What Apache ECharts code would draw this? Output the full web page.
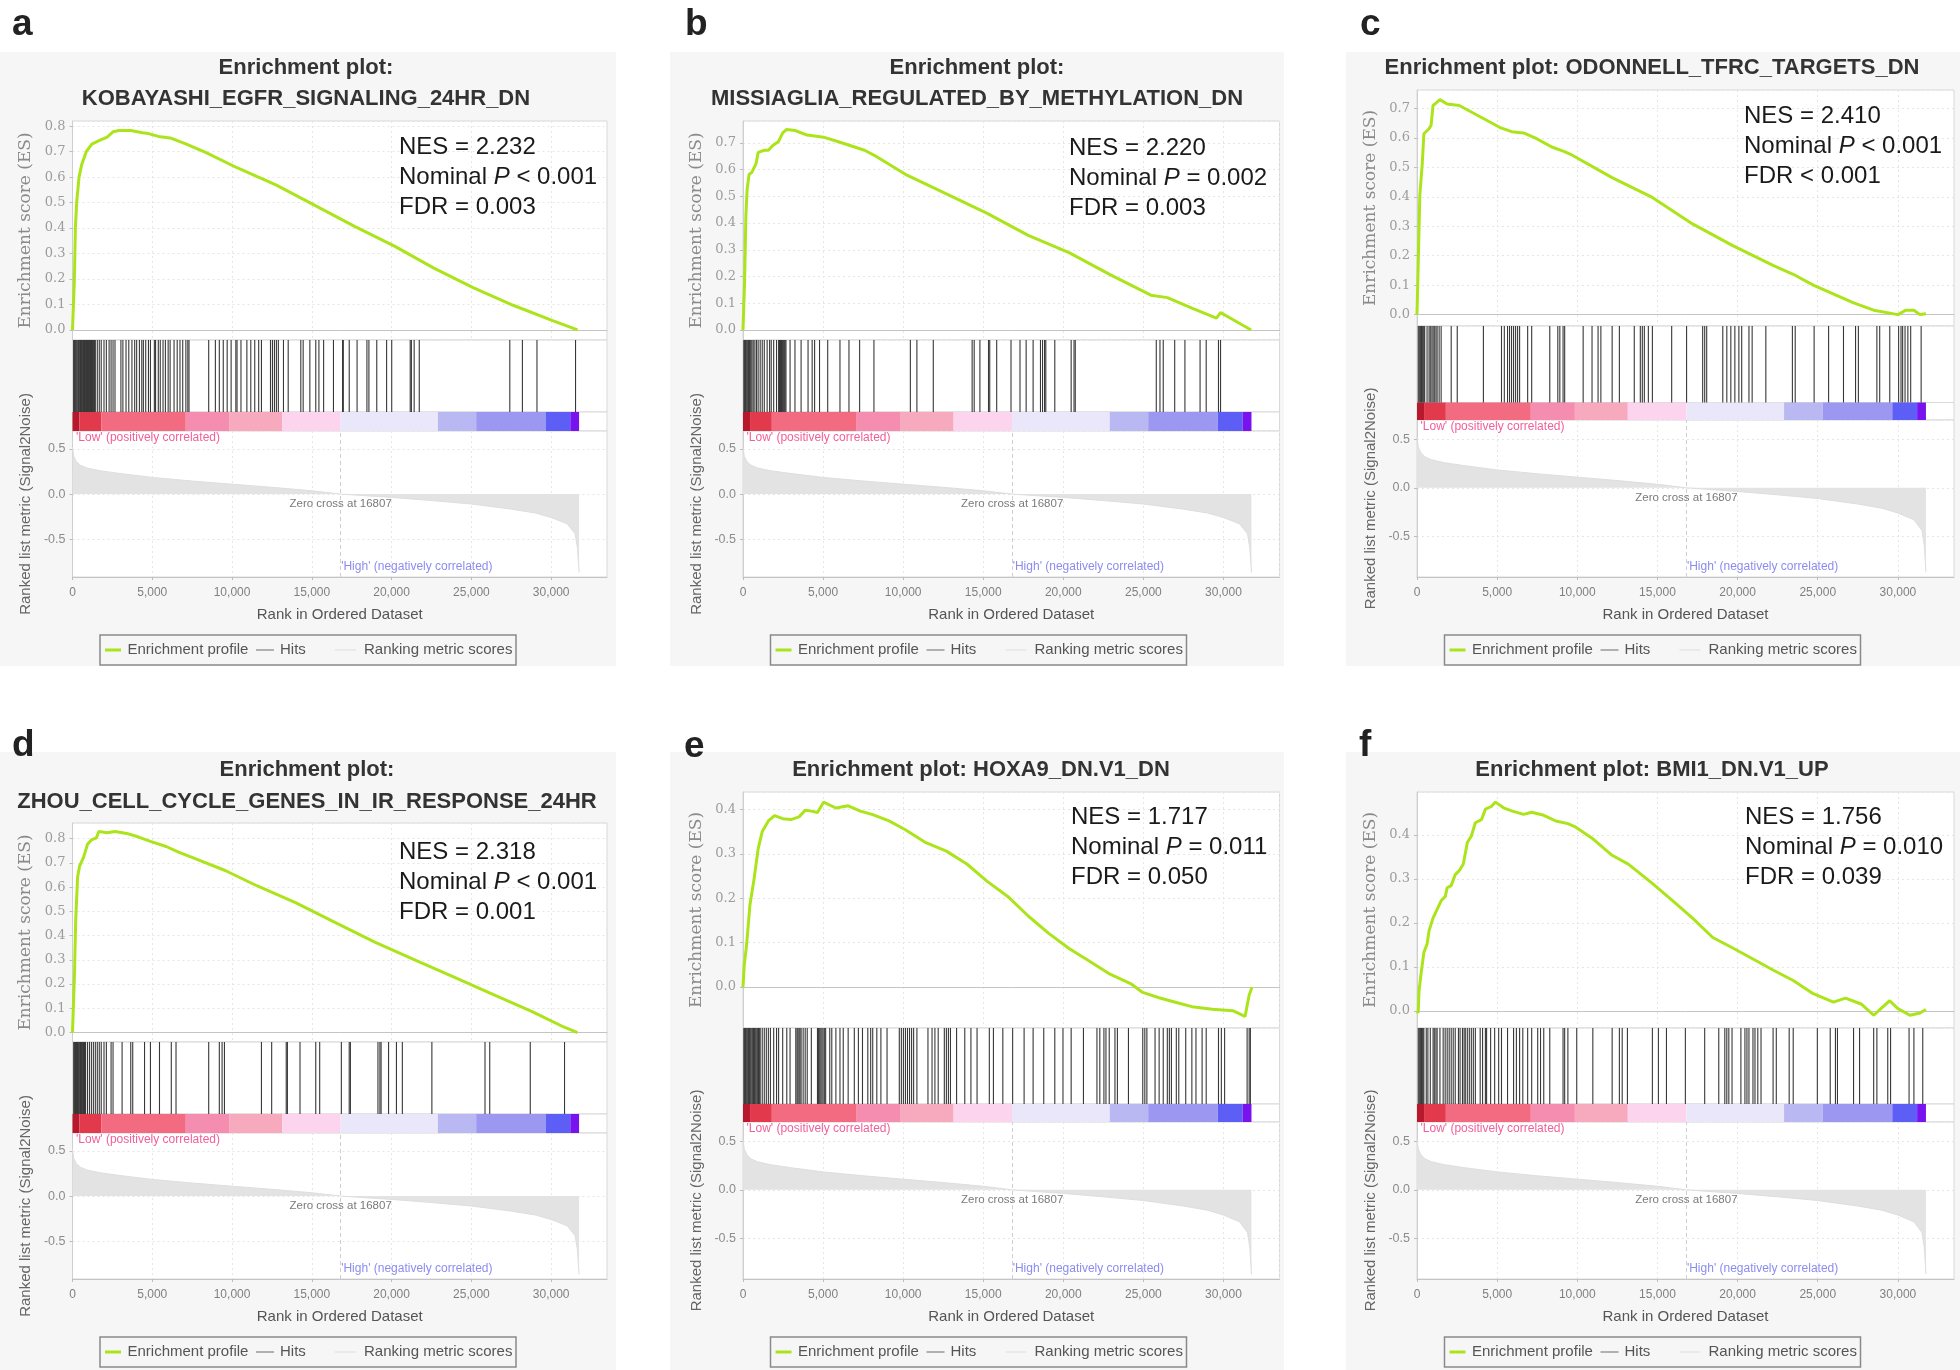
<!DOCTYPE html>
<html><head><meta charset="utf-8">
<script src="https://cdn.jsdelivr.net/npm/echarts@6/dist/echarts.min.js"></script>
<style>html,body{margin:0;padding:0;background:#fff}#c{width:1960px;height:1370px}</style>
</head><body><div id="c"></div>
<script>
// ---------------- DATA ----------------
const zeroCross = 16807;
const rankMax = 33500;
const metricRanks  = [0, 80, 250, 500, 900, 1700, 2900, 5000, 7500, 10000, 12500, 15000, 16807, 18500, 20000, 22500, 25000, 27500, 29000, 30000, 31000, 31500, 31650, 31750];
const metricValues = [0.52, 0.42, 0.36, 0.32, 0.29, 0.26, 0.23, 0.185, 0.145, 0.11, 0.075, 0.037, 0, -0.02, -0.037, -0.072, -0.11, -0.167, -0.21, -0.26, -0.33, -0.44, -0.6, -0.87];
const colorbarEdges = [0, 440, 1800, 7100, 9850, 13150, 16800, 22900, 25300, 29650, 31200, 31750];

const panelLabels = ['a', 'b', 'c', 'd', 'e', 'f'];
const geneSets = ['KOBAYASHI_EGFR_SIGNALING_24HR_DN', 'MISSIAGLIA_REGULATED_BY_METHYLATION_DN', 'ODONNELL_TFRC_TARGETS_DN',
                  'ZHOU_CELL_CYCLE_GENES_IN_IR_RESPONSE_24HR', 'HOXA9_DN.V1_DN', 'BMI1_DN.V1_UP'];
const nesValues = ['2.232', '2.220', '2.410', '2.318', '1.717', '1.756'];
const pValues   = ['< 0.001', '= 0.002', '< 0.001', '< 0.001', '= 0.011', '= 0.010'];
const fdrValues = ['= 0.003', '= 0.003', '< 0.001', '= 0.001', '= 0.050', '= 0.039'];

const esA = [[0,0],[74,0],[120,0.2],[180,0.4],[260,0.5],[410,0.6],[580,0.65],[860,0.7],[1210,0.73],[1730,0.745],[2170,0.757],[2540,0.778],[2910,0.783],[3650,0.783],[4390,0.774],[4760,0.771],[5380,0.76],[6120,0.754],[7100,0.731],[8340,0.697],[10310,0.637],[12780,0.569],[15250,0.487],[17710,0.406],[20180,0.329],[22650,0.243],[25110,0.166],[27580,0.098],[30050,0.038],[31650,0]];
const esB = [[0,0],[50,0],[100,0.183],[180,0.427],[255,0.525],[380,0.582],[560,0.59],[820,0.623],[945,0.664],[1330,0.672],[1585,0.672],[1840,0.689],[2220,0.705],[2480,0.737],[2730,0.75],[3245,0.746],[4010,0.729],[5030,0.721],[6055,0.702],[7590,0.672],[8350,0.648],[10140,0.582],[12700,0.509],[15250,0.436],[17810,0.354],[20360,0.289],[22920,0.207],[25470,0.13],[26500,0.121],[28030,0.082],[29560,0.044],[29820,0.065],[30580,0.039],[31730,0]];
const esC = [[0,0],[75,0],[80,0.18],[175,0.405],[325,0.51],[430,0.614],[750,0.631],[880,0.643],[1000,0.71],[1180,0.718],[1430,0.73],[1880,0.715],[2635,0.71],[4140,0.666],[5150,0.636],[5900,0.621],[6650,0.617],[7400,0.599],[8410,0.569],[9160,0.554],[9660,0.542],[12170,0.465],[14680,0.398],[17190,0.308],[19700,0.234],[22210,0.167],[23470,0.137],[24720,0.1],[27240,0.04],[28490,0.015],[30000,0],[30500,0.015],[31000,0.015],[31375,0],[31750,0.003]];
const esD = [[0,0],[74,0],[120,0.23],[200,0.463],[320,0.642],[444,0.687],[690,0.723],[940,0.777],[1180,0.795],[1500,0.804],[1650,0.83],[2170,0.825],[2660,0.83],[3400,0.822],[4145,0.807],[4880,0.789],[5870,0.768],[6610,0.746],[7845,0.714],[9570,0.669],[11550,0.606],[14010,0.535],[16480,0.454],[18950,0.373],[21410,0.301],[23880,0.23],[26350,0.158],[28810,0.086],[30790,0.023],[31650,0]];
const esE = [[0,0],[50,0],[75,0.049],[230,0.097],[430,0.184],[690,0.243],[945,0.311],[1200,0.35],[1585,0.374],[1970,0.386],[2480,0.379],[2990,0.377],[3500,0.383],[3885,0.398],[4270,0.396],[4650,0.393],[5030,0.416],[5800,0.403],[6570,0.408],[7330,0.396],[8100,0.388],[9120,0.374],[10140,0.354],[11420,0.325],[12700,0.306],[13980,0.277],[15250,0.238],[16530,0.204],[17810,0.16],[19090,0.121],[20360,0.087],[21640,0.058],[22920,0.029],[24200,0.008],[24960,-0.012],[25980,-0.024],[27000,-0.034],[28030,-0.044],[29310,-0.05],[30580,-0.053],[31350,-0.066],[31600,-0.019],[31780,0]];
const esF = [[0,0],[75,-0.005],[125,0.044],[250,0.084],[430,0.133],[630,0.152],[750,0.182],[1000,0.211],[1255,0.231],[1510,0.251],[1760,0.26],[1880,0.28],[2130,0.285],[2385,0.31],[2635,0.319],[2890,0.334],[3140,0.383],[3390,0.398],[3640,0.428],[4020,0.435],[4270,0.459],[4640,0.465],[4890,0.475],[5400,0.462],[5900,0.455],[6650,0.447],[7150,0.452],[7910,0.445],[8660,0.432],[9410,0.426],[9910,0.418],[10920,0.393],[12170,0.354],[13180,0.334],[14680,0.29],[15940,0.251],[17190,0.211],[18450,0.167],[19700,0.143],[20960,0.118],[22210,0.093],[23470,0.069],[24720,0.039],[25980,0.02],[26730,0.029],[27740,0.015],[28490,-0.01],[28990,0.007],[29490,0.023],[30000,0.005],[30750,-0.01],[31380,-0.005],[31750,0.003]];

const hitsA = [70,120,180,240,300,370,430,500,560,620,690,750,810,880,940,1000,1070,1130,1190,1250,1310,1380,1430,1554,1678,1800,1974,2122,2294,2418,2541,2664,3034,3158,3355,3528,3725,3898,4021,4194,4342,4441,4589,4761,4885,5131,5206,5378,5501,5674,5822,5995,6118,6365,6562,6735,6908,7105,7228,7302,8536,8955,9202,9449,9695,9942,10238,10312,10559,10929,11175,11422,11669,11842,12409,12532,12656,12779,12902,13223,13519,14309,14457,14876,15247,15444,15739,16356,16924,16974,17344,17836,18453,18577,19070,19687,20007,21167,21241,21414,21734,27408,28198,29111,31528];
const hitsB = [50,100,150,200,250,300,350,400,450,500,560,639,741,843,945,1073,1201,1329,1507,1661,1763,1916,2095,2223,2280,2340,2400,2460,2520,2580,2630,2683,2938,3245,3628,4062,4318,4471,4778,5289,6055,6617,7282,8176,10450,10859,11881,14308,14436,14793,15330,15407,15841,16735,17297,17680,18115,18575,18703,18830,18907,19469,20491,20670,20747,25806,26036,26240,26956,27594,28540,28923,29690,29818];
const hitsC = [75,130,180,230,280,330,380,430,480,628,753,828,929,1004,1079,1180,1255,1381,1506,2134,2510,4142,5271,5447,5648,5773,5899,6024,6150,6275,6401,6903,7154,8283,8785,8911,9111,9212,10366,10919,11295,11471,12174,12625,13554,13931,14056,14182,14433,14684,15888,16817,17821,17947,18072,19076,19327,19578,19829,20080,20256,20708,20908,21762,23418,23594,24774,25677,26606,27359,27535,28689,28865,29493,30045,30195,30296,30446,30622,30798,31450];
const hitsD = [74,130,190,250,310,370,430,500,560,620,690,750,814,937,1061,1184,1308,1431,1554,1678,1801,1974,2122,2418,2541,3108,3651,3775,4515,4885,5452,6192,6488,8536,9202,9375,9523,11842,12483,13396,13470,14259,15246,15493,16850,17343,17417,19144,19267,19341,19810,20303,20673,22524,25854,26150,28691,30838];
const hitsE = [50,100,150,200,250,300,350,400,450,500,560,610,660,710,760,810,870,920,970,1020,1073,1201,1329,1456,1584,1712,1916,2095,2223,2478,2734,2938,3296,3373,3430,3500,3560,3628,3756,3884,4011,4267,4650,4720,4790,4860,4930,5000,5080,5161,5417,5544,5800,6055,6260,6566,6950,7205,7461,7793,7972,8100,8355,8610,8994,9760,9888,10016,10143,10271,10399,10527,10654,10859,11549,11804,11983,12188,12571,12699,12826,12954,13337,13848,14232,14615,15381,15637,16224,16837,17553,18115,18779,19469,19980,20491,21258,22101,22280,22536,22663,22868,23225,23378,24068,24962,25090,25218,25729,25984,26240,26495,26623,26751,27057,27211,27645,28028,28284,28667,28923,29690,29869,30073,31478,31606,31682];
const hitsF = [75,130,180,230,280,330,380,427,577,678,828,1004,1079,1180,1255,1431,1632,1757,1883,2008,2134,2259,2385,2585,2686,2836,2937,3012,3138,3263,3389,3514,3640,3941,4091,4267,4342,4593,4844,5095,5271,5648,6024,6200,6401,6601,6903,7154,7530,7706,7907,8283,9111,9212,9413,9965,10969,12174,12625,12801,13127,14684,15060,15562,16742,17947,18825,19202,19327,19453,19653,20206,20457,20582,20708,20959,21084,21260,21461,22214,22414,23218,23469,24975,25778,26104,26230,27234,27610,28489,28689,29367,29543,30697,30999,31551];

const esSeries   = [esA, esB, esC, esD, esE, esF];
const hitsSeries = [hitsA, hitsB, hitsC, hitsD, hitsE, hitsF];

// ---------------- STYLE / LAYOUT ----------------
const colorbarColors = ['#b8182c', '#e23a4c', '#f36b80', '#f58db0', '#f7a9bd', '#fcd4ee', '#ebe7fa', '#b9b8f2', '#9c98f2', '#5d5ef5', '#7812ee'];
const ES_COLOR = '#ace41c';
const SANS = '"Liberation Sans", Arial, sans-serif';
const SERIF = '"DejaVu Serif", serif';
const rowA = {esTop:121, esBottom:340, hitsBottom:412, cbBottom:431, metBottom:577};
const rowC = {esTop:90, esBottom:326, hitsBottom:402.5, cbBottom:420, metBottom:577};
const rowD = {esTop:823, esBottom:1042, hitsBottom:1114, cbBottom:1133, metBottom:1279};
const rowE = {esTop:792, esBottom:1028, hitsBottom:1104, cbBottom:1122, metBottom:1279};
const layouts = [
  Object.assign({bgX:0,    bgY:52,  bgW:616, bgH:614, left:72.5, width:534.5, esMin:-0.0394, esMax:0.8205, titleX:306,  titleY:67.5, labelX:12,   labelY:25,  nesX:399,  nesY:147.5,  legendY:635, twoLine:true}, rowA),
  Object.assign({bgX:670,  bgY:52,  bgW:614, bgH:614, left:743,  width:536.5, esMin:-0.0375, esMax:0.7815, titleX:977,  titleY:67.5, labelX:685,  labelY:25,  nesX:1069, nesY:148.75, legendY:635, twoLine:true}, rowA),
  Object.assign({bgX:1346, bgY:52,  bgW:614, bgH:614, left:1417, width:537,   esMin:-0.0387, esMax:0.7626, titleX:1652, titleY:67.5, labelX:1360, labelY:25,  nesX:1744, nesY:116.25, legendY:635, twoLine:false}, rowC),
  Object.assign({bgX:0,    bgY:752, bgW:616, bgH:618, left:72.5, width:534.5, esMin:-0.039,  esMax:0.865,  titleX:307,  titleY:770,  labelX:12,   labelY:746, nesX:399,  nesY:852.5,  legendY:1337, twoLine:true}, rowD),
  Object.assign({bgX:670,  bgY:752, bgW:614, bgH:618, left:743,  width:536.5, esMin:-0.092,  esMax:0.439,  titleX:981,  titleY:770,  labelX:684,  labelY:747, nesX:1071, nesY:817.5,  legendY:1337, twoLine:false}, rowE),
  Object.assign({bgX:1346, bgY:752, bgW:614, bgH:618, left:1417, width:537,   esMin:-0.039,  esMax:0.498,  titleX:1652, titleY:770,  labelX:1359, labelY:746, nesX:1745, nesY:817.5,  legendY:1337, twoLine:false}, rowE)
];
const metMin = -0.92, metMax = 0.70;

// ---------------- BUILD ----------------
const grids = [], xAxes = [], yAxes = [], series = [], graphics = [];
const dotted = {color:'#e6e6e6', type:[2,3], width:1};

panelLabels.forEach((lab, i) => {
  const L = layouts[i];
  const g0 = grids.length;
  const gridBase = {left:L.left, width:L.width, show:true, backgroundColor:'#fff', borderColor:'#d9d9d9', borderWidth:1};
  grids.push(Object.assign({}, gridBase, {top:L.esTop, height:L.esBottom - L.esTop}));
  grids.push(Object.assign({}, gridBase, {top:L.esBottom, height:L.hitsBottom - L.esBottom}));
  grids.push(Object.assign({}, gridBase, {top:L.hitsBottom, height:L.cbBottom - L.hitsBottom}));
  grids.push(Object.assign({}, gridBase, {top:L.cbBottom, height:L.metBottom - L.cbBottom}));

  // ES axes
  xAxes.push({gridIndex:g0, type:'value', min:0, max:rankMax, minInterval:5000, maxInterval:5000,
    axisLabel:{show:false}, axisTick:{show:false},
    axisLine:{show:true, onZero:true, lineStyle:{color:'#c4c4c4', width:1}},
    splitLine:{show:true, lineStyle:dotted}});
  yAxes.push({gridIndex:g0, type:'value', min:L.esMin, max:L.esMax, minInterval:0.1, maxInterval:0.1,
    axisLine:{show:true, lineStyle:{color:'#cfcfcf'}},
    axisTick:{show:true, length:3, lineStyle:{color:'#bdbdbd'}},
    axisLabel:{formatter:v => v.toFixed(1), showMinLabel:false, showMaxLabel:false, color:'#9c9c9c', fontFamily:SERIF, fontSize:13, margin:7},
    splitLine:{show:true, lineStyle:dotted},
    name:'Enrichment score (ES)', nameLocation:'middle', nameRotate:90, nameGap:38,
    nameTextStyle:{fontFamily:SERIF, fontSize:17, color:'#8a8a8a'}});
  // hits axes
  xAxes.push({gridIndex:g0+1, type:'value', min:0, max:rankMax, show:false});
  yAxes.push({gridIndex:g0+1, type:'value', min:0, max:1, show:false});
  // colorbar axes
  xAxes.push({gridIndex:g0+2, type:'value', min:0, max:rankMax, show:false});
  yAxes.push({gridIndex:g0+2, type:'value', min:0, max:1, show:false});
  // metric axes
  xAxes.push({gridIndex:g0+3, type:'value', min:0, max:rankMax, minInterval:5000, maxInterval:5000,
    axisLine:{show:true, onZero:false, lineStyle:{color:'#c4c4c4'}},
    axisTick:{show:true, length:3, lineStyle:{color:'#bdbdbd'}},
    axisLabel:{formatter:v => v.toLocaleString('en-US'), showMaxLabel:false, color:'#808080', fontFamily:SANS, fontSize:12, margin:10},
    splitLine:{show:true, lineStyle:dotted},
    name:'Rank in Ordered Dataset', nameLocation:'middle', nameGap:30,
    nameTextStyle:{fontFamily:SANS, fontSize:15, color:'#555'}});
  yAxes.push({gridIndex:g0+3, type:'value', min:metMin, max:metMax, minInterval:0.5, maxInterval:0.5,
    axisLine:{show:true, lineStyle:{color:'#cfcfcf'}},
    axisTick:{show:true, length:3, lineStyle:{color:'#bdbdbd'}},
    axisLabel:{formatter:v => v.toFixed(1), showMinLabel:false, showMaxLabel:false, color:'#8c8c8c', fontFamily:SANS, fontSize:12.5, margin:7},
    splitLine:{show:true, lineStyle:dotted},
    name:'Ranked list metric (Signal2Noise)', nameLocation:'middle', nameRotate:90, nameGap:39,
    nameTextStyle:{fontFamily:SANS, fontSize:15, color:'#666'}});

  // series: metric area
  series.push({type:'line', name:'Ranking metric scores', xAxisIndex:g0+3, yAxisIndex:g0+3,
    data: metricRanks.map((r, k) => [r, metricValues[k]]),
    symbol:'none', lineStyle:{color:'#dedede', width:1}, areaStyle:{color:'#e3e3e3', opacity:1}, z:2,
    markLine:{silent:true, symbol:['none','none'], label:{show:false},
      lineStyle:{color:'#cfcfcf', type:[4,3], width:1}, data:[{xAxis:zeroCross}]},
    markPoint:{silent:true, symbol:'circle', symbolSize:1, itemStyle:{color:'rgba(0,0,0,0)'},
      data:[
        {coord:[0, 0.63], label:{show:true, formatter:"'Low' (positively correlated)", position:'right', distance:3, color:'#f0609a', fontFamily:SANS, fontSize:12}},
        {coord:[zeroCross, 0], label:{show:true, formatter:'Zero cross at ' + zeroCross, position:'bottom', distance:3, color:'#7a7a7a', fontFamily:SANS, fontSize:11.5}},
        {coord:[zeroCross, -0.81], label:{show:true, formatter:"'High' (negatively correlated)", position:'right', distance:0, color:'#8c8cf0', fontFamily:SANS, fontSize:12}}
      ]}});
  // colorbar
  series.push({type:'custom', name:'colorbar', xAxisIndex:g0+2, yAxisIndex:g0+2, silent:true,
    data: colorbarEdges.slice(0, -1).map((e, k) => [e, colorbarEdges[k+1], k]),
    encode:{x:[0,1]},
    renderItem:(params, api) => {
      const p0 = api.coord([api.value(0), 1]);
      const p1 = api.coord([api.value(1), 0]);
      return {type:'rect', shape:{x:p0[0], y:p0[1], width:p1[0]-p0[0], height:p1[1]-p0[1]},
        style:{fill:colorbarColors[api.value(2)]}};
    }});
  // hits
  series.push({type:'custom', name:'Hits', xAxisIndex:g0+1, yAxisIndex:g0+1, silent:true,
    data: hitsSeries[i].map(r => [r, 1]), encode:{x:0, y:1},
    renderItem:(params, api) => {
      const t = api.coord([api.value(0), 1]);
      const b = api.coord([api.value(0), 0]);
      return {type:'line', shape:{x1:t[0], y1:t[1], x2:b[0], y2:b[1]}, style:{stroke:'#383838', lineWidth:1.1}};
    }});
  // ES curve
  series.push({type:'line', name:'Enrichment profile', xAxisIndex:g0, yAxisIndex:g0,
    data: esSeries[i], symbol:'none', lineStyle:{color:ES_COLOR, width:3}, z:5});

  // ---- graphics ----
  graphics.push({type:'rect', z:-10, silent:true, shape:{x:L.bgX, y:L.bgY, width:L.bgW, height:L.bgH}, style:{fill:'#f6f6f6'}});
  graphics.push({type:'text', z:10, x:L.labelX, y:L.labelY, style:{text:lab, fontFamily:SANS, fontWeight:'bold', fontSize:37, fill:'#222', verticalAlign:'middle'}});
  const titleText = L.twoLine ? 'Enrichment plot:\n' + geneSets[i] : 'Enrichment plot: ' + geneSets[i];
  graphics.push({type:'text', z:10, x:L.titleX, y:L.titleY - 15.75, style:{text:titleText, fontFamily:SANS, fontWeight:'bold', fontSize:22, lineHeight:31.5, fill:'#333', align:'center', verticalAlign:'top'}});
  const statRich = {n:{fontFamily:SANS, fontSize:24, fill:'#1a1a1a'}, i:{fontFamily:SANS, fontSize:24, fontStyle:'italic', fill:'#1a1a1a'}};
  graphics.push({type:'text', z:10, x:L.nesX, y:L.nesY, style:{text:'{n|NES = ' + nesValues[i] + '}', rich:statRich, verticalAlign:'middle'}});
  graphics.push({type:'text', z:10, x:L.nesX, y:L.nesY + 30, style:{text:'{n|Nominal }{i|P}{n| ' + pValues[i] + '}', rich:statRich, verticalAlign:'middle'}});
  graphics.push({type:'text', z:10, x:L.nesX, y:L.nesY + 60, style:{text:'{n|FDR ' + fdrValues[i] + '}', rich:statRich, verticalAlign:'middle'}});
  // legend
  const lx = L.left + 27.5, ly = L.legendY, lc = ly + 15;
  graphics.push({type:'group', z:10, children:[
    {type:'rect', shape:{x:lx, y:ly, width:416, height:30}, style:{fill:'none', stroke:'#8a8a8a', lineWidth:1.5}},
    {type:'line', shape:{x1:lx+5, y1:lc, x2:lx+21, y2:lc}, style:{stroke:ES_COLOR, lineWidth:3}},
    {type:'text', x:lx+27.5, y:lc, style:{text:'Enrichment profile', fontFamily:SANS, fontSize:15, fill:'#555', verticalAlign:'middle'}},
    {type:'line', shape:{x1:lx+156, y1:lc, x2:lx+174, y2:lc}, style:{stroke:'#9a9a9a', lineWidth:1.5}},
    {type:'text', x:lx+180, y:lc, style:{text:'Hits', fontFamily:SANS, fontSize:15, fill:'#555', verticalAlign:'middle'}},
    {type:'line', shape:{x1:lx+235, y1:lc, x2:lx+256, y2:lc}, style:{stroke:'#e6e6e6', lineWidth:1.5}},
    {type:'text', x:lx+264, y:lc, style:{text:'Ranking metric scores', fontFamily:SANS, fontSize:15, fill:'#555', verticalAlign:'middle'}}
  ]});
});

const chart = echarts.init(document.getElementById('c'), null, {renderer:'canvas', width:1960, height:1370});
chart.setOption({
  animation:false,
  backgroundColor:'#ffffff',
  textStyle:{fontFamily:SANS},
  grid:grids, xAxis:xAxes, yAxis:yAxes, series:series, graphic:graphics
});
</script></body></html>
